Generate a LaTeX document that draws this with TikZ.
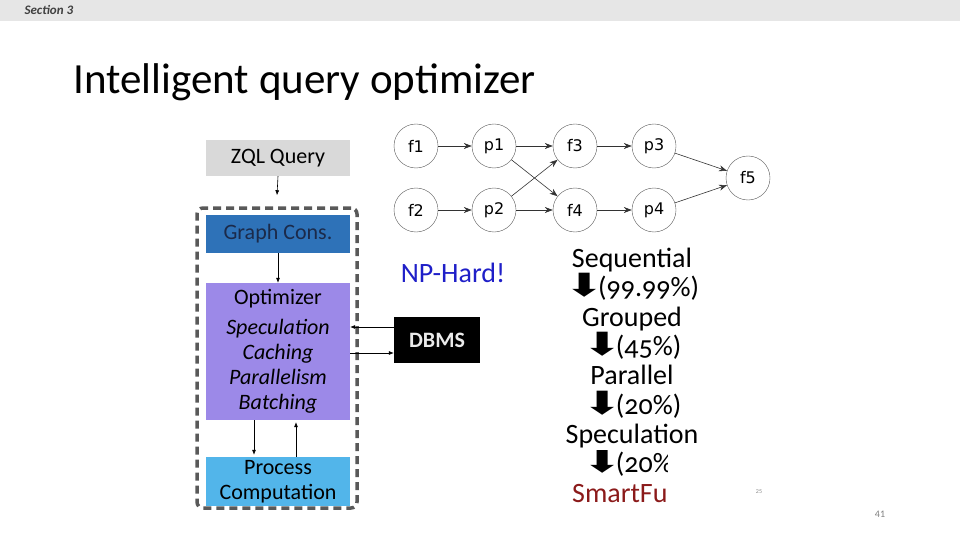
\documentclass[tikz,border=0pt]{standalone}
\usepackage{fontspec}
\usepackage{graphicx}
\setmainfont{Carlito}
\newfontfamily\dejavu{DejaVu Sans}
\usetikzlibrary{arrows.meta,positioning,calc}
\definecolor{barGray}{HTML}{E6E6E6}
\definecolor{zqlGray}{HTML}{D9D9D9}
\definecolor{consBlue}{HTML}{2E72B8}
\definecolor{consInk}{HTML}{1B2A4A}
\definecolor{optPurple}{HTML}{9C89E8}
\definecolor{procBlue}{HTML}{52B5EA}
\definecolor{frameGray}{HTML}{595959}
\definecolor{npBlue}{HTML}{1F1FC8}
\definecolor{smartRed}{HTML}{8B1A1A}
\newcommand{\dnarrow}{\smash{\dejavu\fontsize{32}{34}\selectfont\scalebox{1.5}[1]{⬇}}\kern-7pt}

\begin{document}
\begin{tikzpicture}[
  x=1pt,y=-1pt,
  >=Latex,
  box/.style={minimum width=144pt,inner sep=0pt,align=center,font=\fontsize{22}{25}\selectfont},
  frame/.style={draw=frameGray,line width=3.5pt,dash pattern=on 8pt off 5pt,rounded corners=6pt,minimum width=160pt,minimum height=300pt},
  vert/.style={draw=black!65,circle,minimum size=44pt,inner sep=0pt,font=\dejavu\fontsize{16}{18}\selectfont},
  edge/.style={-{Stealth[length=8pt,width=6pt]},black!80,line width=0.6pt},
  link/.style={-{Latex[length=5pt,width=4pt]},line width=0.6pt},
  stage/.style={anchor=base,inner sep=0pt,font=\fontsize{28}{30}\selectfont\addfontfeatures{Numbers=OldStyle}}
]
\useasboundingbox (0,0) rectangle (960,540);

% Slide header and title.
\fill[barGray] (0,0) rectangle (960,21);
\node[anchor=west,text=black!75,font=\fontsize{13}{15}\selectfont\bfseries\itshape] (sec) at (21,10) {Section 3};
\node[anchor=west,font=\fontsize{43}{50}\selectfont] (title) at (70,82) {Intelligent query optimizer};

% Pipeline inside the dashed frame.
\node[frame] (frm) at (277,358) {};
\node[box,fill=zqlGray,minimum height=36pt] (zql) at (278,158) {ZQL Query};
\node[box,fill=consBlue,text=consInk,minimum height=38pt] (cons) at (278,234) {Graph Cons.};
\node[box,fill=optPurple,minimum height=137pt] (opt) at (278,351.5) {Optimizer\\[5pt]\itshape Speculation\\\itshape Caching\\\itshape Parallelism\\\itshape Batching};
\node[box,fill=procBlue,minimum height=49pt] (proc) at (278,481.5) {Process\\Computation};
\node[fill=black,text=white!92!black,minimum width=86pt,minimum height=46pt,font=\fontsize{22}{24}\selectfont\bfseries] (dbms) at (437,340) {DBMS};
\draw[link] (zql.south) -- ([yshift=11pt]frm.north);
\draw[link] (cons.south) -- (opt.north);
\coordinate (dIn) at ([yshift=13pt]dbms.west);
\coordinate (dOut) at ([yshift=-13pt]dbms.west);
\draw[link] (dIn) -- (dIn -| opt.east);
\draw[link] (dOut -| opt.east) -- (dOut);
\draw[link] ([xshift=-24pt]opt.south) -- ([xshift=-24pt,yshift=2pt]proc.north);
\draw[link] ([xshift=18pt]proc.north) -- ([xshift=18pt,yshift=-2pt]opt.south);

% Dataflow graph.
\foreach \n/\x/\y in {f1/416/146,p1/494/146,f3/575/146,p3/654/146,f2/416/210,p2/494/210,f4/575/210,p4/654/210,f5/748/178}
  \node[vert] (\n) at (\x,\y) {\n};
\foreach \a/\b in {f1/p1,p1/f3,p1/f4,f3/p3,p3/f5,f2/p2,p2/f3,p2/f4,f4/p4,p4/f5}
  \draw[edge] (\a) -- (\b);

\node[text=npBlue,font=\fontsize{28}{30}\selectfont] (np) at (453,273) {NP-Hard!};

% Speed-up steps, cut off on the right.
\node[stage] (s0) at (632,267) {Sequential};
\node[stage] (s1) at (632,296.5) {\dnarrow(99.99\%)};
\node[stage] (s2) at (632,326) {Grouped};
\node[stage] (s3) at (632,355) {\dnarrow(45\%)};
\node[stage] (s4) at (632,384) {Parallel};
\node[stage] (s5) at (632,414) {\dnarrow(20\%)};
\node[stage] (s6) at (632,443) {Speculation};
\begin{scope}
  \clip (540,450) rectangle (667,515);
  \node[stage] (s7) at (632,472.5) {\dnarrow(20\%)};
  \node[stage,anchor=base west,text=smartRed] (s8) at (572,502) {SmartFuse};
\end{scope}

\node[text=black!45,font=\fontsize{6}{7}\selectfont] (small) at (759,492) {25};
\node[text=black!50,font=\fontsize{10}{12}\selectfont] (page) at (880,514) {41};
\end{tikzpicture}
\end{document}
